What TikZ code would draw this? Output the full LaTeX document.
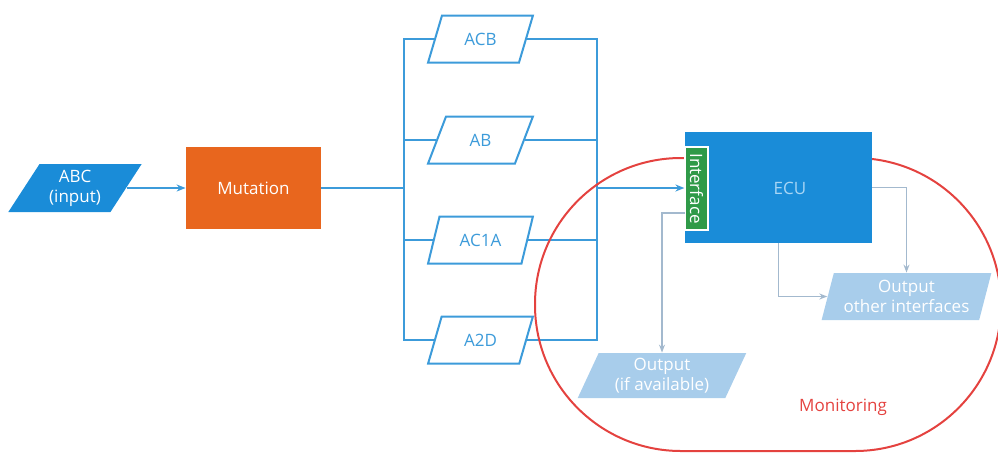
\documentclass[tikz,border=0pt]{standalone}
\usepackage{fontspec}
\setmainfont{Open Sans}
\usetikzlibrary{shapes.geometric,arrows.meta}
\definecolor{cblue}{HTML}{1A8CD8}
\definecolor{cline}{HTML}{3C9BDA}
\definecolor{corange}{HTML}{E8661E}
\definecolor{cgreen}{HTML}{2F9A48}
\definecolor{cpale}{HTML}{A8CDEB}
\definecolor{cgrey}{HTML}{A3B9CE}
\definecolor{cred}{HTML}{E4423F}
\definecolor{cecutext}{HTML}{A9D6F5}
\tikzset{
  every node/.style={font=\fontsize{8.5}{10}\selectfont},
  datapara/.style={trapezium,trapezium stretches=true,inner sep=0pt,align=center},
  codepara/.style={datapara,draw=cline,line width=1pt,fill=white,text=cline,
    minimum width=52.5pt,minimum height=23.5pt,trapezium left angle=65,trapezium right angle=115},
  busline/.style={cline,line width=1pt},
  flow/.style={busline,-{Stealth[length=4.5pt,width=3.5pt]}},
  conn/.style={cgrey,line width=0.7pt,-{Stealth[length=4pt,width=3pt]}}
}

\begin{document}
\begin{tikzpicture}[x=0.5pt,y=-0.5pt]
  \useasboundingbox (0,0) rectangle (998,452);
  \coordinate (busL) at (404,188);
  \coordinate (busR) at (597,188);

  \node[datapara,fill=cblue,text=white,minimum width=67pt,minimum height=24pt,
    trapezium left angle=58,trapezium right angle=122] (abc) at (75,188) {ABC\\(input)};
  \node[fill=corange,text=white,minimum width=67.5pt,minimum height=41pt] (mutation) at (253.5,188) {Mutation};

  \node[codepara] (acb) at (480.5,39) {ACB};
  \node[codepara] (ab) at (480.5,140) {AB};
  \node[codepara] (ac1a) at (480.5,240) {AC1A};
  \node[codepara] (a2d) at (480.5,340) {A2D};

  \draw[flow] (abc.east) -- (abc.east -| mutation.west);
  \draw[busline] (mutation) -- (busL);
  \draw[busline] (acb.west) -- (acb.west -| busL) -- (a2d.west -| busL) -- (a2d.west);
  \draw[busline] (acb.east) -- (acb.east -| busR) -- (a2d.east -| busR) -- (a2d.east);
  \draw[busline] (ab.west) -- (ab.west -| busL);
  \draw[busline] (ab.east) -- (ab.east -| busR);
  \draw[busline] (ac1a.west) -- (ac1a.west -| busL);
  \draw[busline] (ac1a.east) -- (ac1a.east -| busR);

  \node[draw=cred,line width=1pt,rounded corners=73pt,minimum width=233pt,minimum height=146.5pt] (monitor) at (768,304.5) {};
  \node[text=cred] (monlabel) at (843,407) {Monitoring};

  \node[fill=cblue,minimum width=93.5pt,minimum height=55.5pt] (ecu) at (778.5,187.5) {};
  \node[text=cecutext] (ecutext) at (790,188) {ECU};
  \node[fill=cgreen,draw=white,line width=0.6pt,inner sep=0pt,minimum width=11.5pt,minimum height=41.5pt] (iface) at (696.5,188.5) {};
  \node[text=white,rotate=-90,inner sep=0pt] (ifacetext) at (iface) {Interface};
  \coordinate (ifout) at (685,213);

  \draw[flow] (busR) -- (busR -| iface.west);

  \node[datapara,fill=cpale,text=white,minimum width=84.5pt,minimum height=22.5pt,
    trapezium left angle=66,trapezium right angle=114] (outavail) at (662,375.5) {Output\\(if available)};
  \node[datapara,fill=cpale,text=white,minimum width=85pt,minimum height=23.5pt,
    trapezium left angle=72,trapezium right angle=108] (outother) at (906.5,296.5) {Output\\other interfaces};

  \draw[conn] (ifout) -| (outavail.north);
  \draw[conn] (ecu.south) |- (outother.west);
  \draw[conn] (ecu.east) -| (outother.north);
\end{tikzpicture}
\end{document}
